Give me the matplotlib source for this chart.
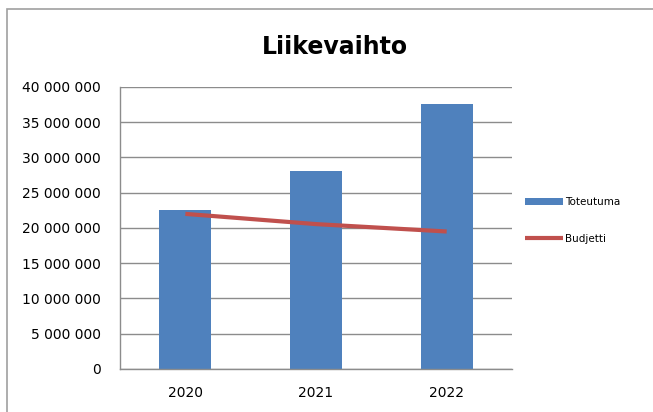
import matplotlib
matplotlib.use('Agg')
import matplotlib.pyplot as plt
from matplotlib.patches import Rectangle

years = ['2020', '2021', '2022']
toteutuma = [22550000, 28100000, 37600000]
budjetti = [22000000, 20550000, 19500000]
yticks = [0, 5000000, 10000000, 15000000, 20000000, 25000000, 30000000, 35000000, 40000000]
ylabels = ['0', '5 000 000', '10 000 000', '15 000 000', '20 000 000', '25 000 000',
           '30 000 000', '35 000 000', '40 000 000']

fig = plt.figure(figsize=(6.53, 4.12), dpi=100)
ax = fig.add_axes([0.1838, 0.1044, 0.6003, 0.6845])

x = range(len(years))
bars = ax.bar(x, toteutuma, width=0.4, color='#4F81BD', label='Toteutuma', zorder=2)
line, = ax.plot(x, budjetti, color='#C0504D', lw=3, label='Budjetti', zorder=3,
                solid_capstyle='butt')

ax.set_xlim(-0.5, 2.5)
ax.set_ylim(0, 40000000)
ax.set_yticks(yticks)
ax.set_yticklabels(ylabels)
ax.set_xticks(list(x))
ax.set_xticklabels(years)
ax.tick_params(axis='y', length=0, pad=14, labelsize=10, colors='#000000')
ax.tick_params(axis='x', length=0, pad=12, labelsize=10)
ax.grid(axis='y', color='#8c8c8c', lw=1, zorder=0)
for s in ['top', 'right']:
    ax.spines[s].set_visible(False)
for s in ['left', 'bottom']:
    ax.spines[s].set_color('#8c8c8c')
    ax.spines[s].set_linewidth(1)

fig.text(0.513, 0.886, 'Liikevaihto', ha='center', va='center', fontsize=17, fontweight='bold')

fig.legend([bars, line], ['Toteutuma', 'Budjetti'], loc='upper left',
           bbox_to_anchor=(0.79, 0.545), frameon=False,
           fontsize=7.5, labelspacing=2.6, handlelength=3.6, handletextpad=0.2)

fig.patches.append(Rectangle((7 / 653, -0.1), 1.2, 1 - 9 / 412 + 0.1, transform=fig.transFigure,
                             fill=False, edgecolor='#a0a0a0', lw=1.2))

fig.savefig('out.png', dpi=100)
